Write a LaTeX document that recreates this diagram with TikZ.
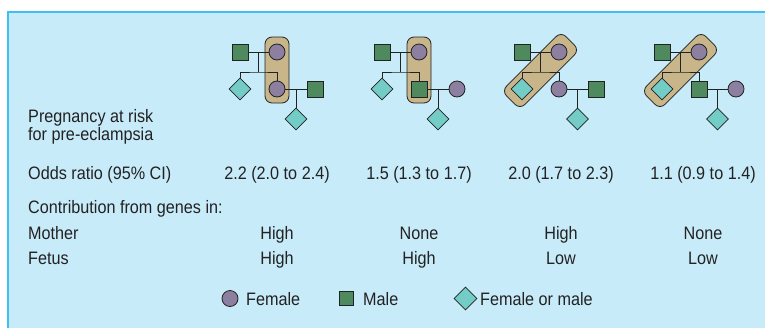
\documentclass[tikz,border=0pt]{standalone}
\usepackage{fontspec}
\setmainfont{Liberation Sans}[FakeStretch=0.9]
\usetikzlibrary{shapes.geometric}

\definecolor{bgcol}{HTML}{C8EBFA}
\definecolor{edgecol}{HTML}{40C0F0}
\definecolor{femcol}{HTML}{8C7FA0}
\definecolor{malecol}{HTML}{4E8A5E}
\definecolor{eithcol}{HTML}{74CCC6}
\definecolor{riskcol}{HTML}{C8B68A}
\definecolor{inkcol}{HTML}{222222}

\tikzset{
  female/.style={circle, draw=inkcol, fill=femcol, line width=0.8pt, minimum size=16pt, inner sep=0pt},
  male/.style={rectangle, draw=inkcol, fill=malecol, line width=0.8pt, minimum size=16pt, inner sep=0pt},
  either/.style={diamond, draw=inkcol, fill=eithcol, line width=0.8pt, minimum size=22pt, inner sep=0pt},
  risk/.style={rectangle, draw=inkcol, fill=riskcol, line width=0.8pt, rounded corners=7pt, inner sep=0pt},
  kin/.style={draw=inkcol, line width=0.8pt},
  rowtext/.style={anchor=base west, inner sep=0pt, text=inkcol, font=\fontsize{18}{16}\selectfont},
  coltext/.style={anchor=base, inner sep=0pt, text=inkcol, font=\fontsize{18}{16}\selectfont}
}

\begin{document}
\begin{tikzpicture}[x=1pt, y=-1pt]
                \useasboundingbox (0, 0) rectangle (765, 327);
                \fill [bgcol] (8, 12) rectangle (770, 332);
                \draw [edgecol, line width=1.5pt] (8, 332) -- (8, 12) -- (770, 12);

                % pedigree 1
                \node [risk, minimum width=24pt, minimum height=66pt] (r1) at (277, 70) {};
                \node [male] (a1) at (240, 52) {};
                \node [female] (b1) at (277, 52) {};
                \node [either] (c1) at (240, 89) {};
                \node [female] (e1) at (277, 89) {};
                \node [male] (g1) at (315, 89) {};
                \node [either] (k1) at (296, 119) {};
                \coordinate (d1) at (258.5, 52);
                \coordinate (s1) at (258.5, 72);
                \coordinate (t1) at (296, 89);
                \draw [kin] (a1) -- (b1);
                \draw [kin] (d1) -- (s1);
                \draw [kin] (c1) |- (s1) -| (e1);
                \draw [kin] (e1) -- (g1);
                \draw [kin] (t1) -- (k1);

                % pedigree 2
                \node [risk, minimum width=24pt, minimum height=66pt] (r2) at (419, 70) {};
                \node [male] (a2) at (382, 52) {};
                \node [female] (b2) at (419, 52) {};
                \node [either] (c2) at (382, 89) {};
                \node [male] (e2) at (419, 89) {};
                \node [female] (g2) at (457, 89) {};
                \node [either] (k2) at (438, 119) {};
                \coordinate (d2) at (400.5, 52);
                \coordinate (s2) at (400.5, 72);
                \coordinate (t2) at (438, 89);
                \draw [kin] (a2) -- (b2);
                \draw [kin] (d2) -- (s2);
                \draw [kin] (c2) |- (s2) -| (e2);
                \draw [kin] (e2) -- (g2);
                \draw [kin] (t2) -- (k2);

                % pedigree 3
                \node [risk, minimum width=84pt, minimum height=26pt, rotate=45] (r3) at (540.5, 70.5) {};
                \node [male] (a3) at (522, 52) {};
                \node [female] (b3) at (559, 52) {};
                \node [either] (c3) at (522, 89) {};
                \node [female] (e3) at (559, 89) {};
                \node [male] (g3) at (596, 89) {};
                \node [either] (k3) at (577.5, 119) {};
                \coordinate (d3) at (540.5, 52);
                \coordinate (s3) at (540.5, 72);
                \coordinate (t3) at (577.5, 89);
                \draw [kin] (a3) -- (b3);
                \draw [kin] (d3) -- (s3);
                \draw [kin] (c3) |- (s3) -| (e3);
                \draw [kin] (e3) -- (g3);
                \draw [kin] (t3) -- (k3);

                % pedigree 4
                \node [risk, minimum width=84pt, minimum height=26pt, rotate=45] (r4) at (680.5, 70.5) {};
                \node [male] (a4) at (662, 52) {};
                \node [female] (b4) at (699, 52) {};
                \node [either] (c4) at (662, 89) {};
                \node [male] (e4) at (699, 89) {};
                \node [female] (g4) at (736, 89) {};
                \node [either] (k4) at (717.5, 119) {};
                \coordinate (d4) at (680.5, 52);
                \coordinate (s4) at (680.5, 72);
                \coordinate (t4) at (717.5, 89);
                \draw [kin] (a4) -- (b4);
                \draw [kin] (d4) -- (s4);
                \draw [kin] (c4) |- (s4) -| (e4);
                \draw [kin] (e4) -- (g4);
                \draw [kin] (t4) -- (k4);

                % row labels
                \node [rowtext, align=left] (preg) at (28, 140) {Pregnancy at risk\\for pre-eclampsia};
                \node [rowtext] (odds) at (28, 179) {Odds ratio (95\% CI)};
                \node [rowtext] (contrib) at (28, 213) {Contribution from genes in:};
                \node [rowtext] (mother) at (28, 239) {Mother};
                \node [rowtext] (fetus) at (28, 264) {Fetus};

                % values
                \node [coltext] (or1) at (277, 179) {2.2 (2.0 to 2.4)};
                \node [coltext] (or2) at (419, 179) {1.5 (1.3 to 1.7)};
                \node [coltext] (or3) at (561, 179) {2.0 (1.7 to 2.3)};
                \node [coltext] (or4) at (703, 179) {1.1 (0.9 to 1.4)};
                \node [coltext] (mo1) at (277, 239) {High};
                \node [coltext] (mo2) at (419, 239) {None};
                \node [coltext] (mo3) at (561, 239) {High};
                \node [coltext] (mo4) at (703, 239) {None};
                \node [coltext] (fe1) at (277, 264) {High};
                \node [coltext] (fe2) at (419, 264) {High};
                \node [coltext] (fe3) at (561, 264) {Low};
                \node [coltext] (fe4) at (703, 264) {Low};

                % legend
                \node [female] (keyf) at (230, 298.5) {};
                \node [rowtext] (keyft) at (246, 305.5) {Female};
                \node [male, minimum size=14pt] (keym) at (346, 298.5) {};
                \node [rowtext] (keymt) at (363, 305.5) {Male};
                \node [either, minimum size=23pt] (keye) at (465.5, 298.5) {};
                \node [rowtext] (keyet) at (480, 305.5) {Female or male};
\end{tikzpicture}
\end{document}
